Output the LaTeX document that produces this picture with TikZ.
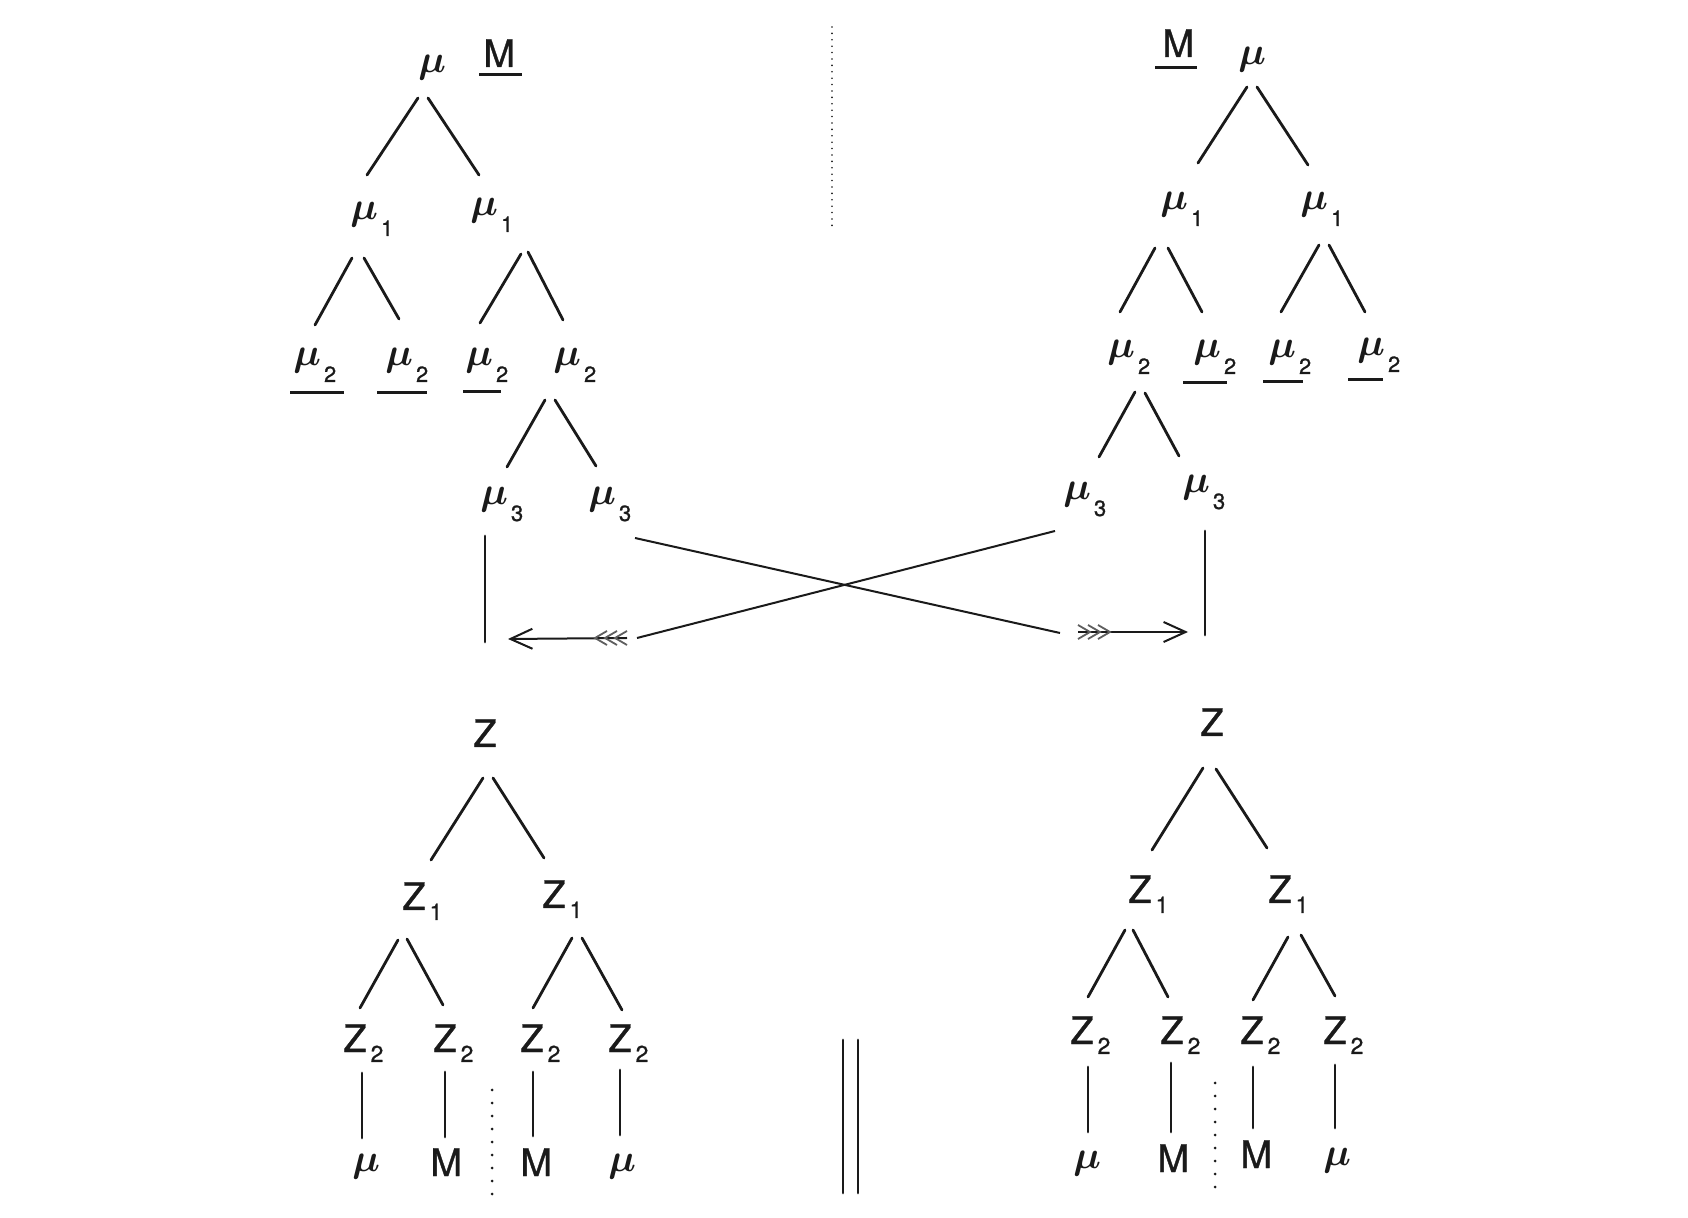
\RequirePackage{fix-cm}
\documentclass[tikz,border=0pt]{standalone}
\usepackage{fontspec}
\setsansfont{TeX Gyre Heros}
\newfontfamily\hvb{TeX Gyre Heros}[FakeBold=0.9]
\usetikzlibrary{arrows.meta}
\definecolor{ink}{HTML}{1A1A1A}
\newcommand\mub{{\fontsize{19.5}{21}\selectfont\boldmath$\mu$}}
\newcommand\Mb{{\hvb\fontsize{19}{20}\selectfont M}}
\newcommand\Zb{{\hvb\fontsize{19}{20}\selectfont Z}}
\newcommand\mul[1]{\mub\hspace{1.5pt}\raisebox{-8pt}{\hvb\fontsize{11}{11}\selectfont #1}}
\newcommand\zl[1]{\Zb\hspace{2pt}\raisebox{-5pt}{\hvb\fontsize{11.5}{11}\selectfont #1}}
\newcommand\E[6]{\draw[edge] ([shift={(#2,#3)}]#1.base west) -- ([shift={(#5,#6)}]#4.base west);}
\newcommand\U[4]{\draw[uline] ([shift={(#2,#3)}]#1.base west) -- ([shift={(#4,#3)}]#1.base west);}
\begin{document}
\begin{tikzpicture}[x=0.5pt,y=-0.5pt,
  edge/.style={line width=1.4pt, draw=ink, line cap=round},
  lab/.style={inner sep=0pt, anchor=base west, text=ink},
  uline/.style={line width=1.5pt, draw=ink},
  thinline/.style={line width=1pt, draw=ink},
  feather/.style={line width=0.9pt, draw=ink!70},
  dots/.style={line width=1.5pt, draw=ink, line cap=round, dash pattern=on 0pt off 6.5pt}]
\useasboundingbox[fill=white] (0,0) rectangle (1688,1218);

% ---------- top-left tree ----------
\node[lab] (A0) at (418,73) {\mub};
\node[lab] (AM) at (483,67) {\Mb};
\node[lab] (A1) at (350,220) {\mul{1}};
\node[lab] (A2) at (470,216) {\mul{1}};
\node[lab] (A3) at (293,366) {\mul{2}};
\node[lab] (A4) at (385,366) {\mul{2}};
\node[lab] (A5) at (465,366) {\mul{2}};
\node[lab] (A6) at (553,366) {\mul{2}};
\node[lab] (A7) at (480,505) {\mul{3}};
\node[lab] (A8) at (588,505) {\mul{3}};
\U{AM}{-4}{8}{39}
\U{A3}{-3}{27}{51}
\U{A4}{-8}{27}{42}
\U{A5}{-2}{26}{36}
\E{A0}{0}{25}{A1}{17}{-45}
\E{A0}{10}{25}{A2}{9}{-41}
\E{A1}{2}{38}{A3}{22}{-41}
\E{A1}{14}{38}{A4}{14}{-47}
\E{A2}{51}{38}{A5}{15}{-43}
\E{A2}{58}{36}{A6}{10}{-46}
\E{A6}{-8}{34}{A7}{27}{-38}
\E{A6}{2}{34}{A8}{8}{-39}

% ---------- top-right tree ----------
\node[lab] (B0) at (1238,65) {\mub};
\node[lab] (BM) at (1162,57) {\Mb};
\node[lab] (B1) at (1160,210) {\mul{1}};
\node[lab] (B2) at (1300,210) {\mul{1}};
\node[lab] (B3) at (1107,358) {\mul{2}};
\node[lab] (B4) at (1193,358) {\mul{2}};
\node[lab] (B5) at (1268,358) {\mul{2}};
\node[lab] (B6) at (1357,356) {\mul{2}};
\node[lab] (B7) at (1063,500) {\mul{3}};
\node[lab] (B8) at (1182,493) {\mul{3}};
\U{BM}{-7}{11}{35}
\U{B4}{-10}{25}{34}
\U{B5}{-5}{24}{35}
\U{B6}{-9}{24}{26}
\E{B0}{9}{22}{B1}{38}{-47}
\E{B0}{19}{22}{B2}{8}{-45}
\E{B1}{-5}{38}{B3}{13}{-46}
\E{B1}{8}{38}{B4}{9}{-46}
\E{B2}{19}{35}{B5}{13}{-46}
\E{B2}{29}{35}{B6}{8}{-44}
\E{B3}{28}{34}{B7}{36}{-43}
\E{B3}{38}{35}{B8}{-3}{-37}

% ---------- vertical stems and crossing arrows ----------
\coordinate (cA) at (485,642);
\coordinate (cB) at (1205,635);
\draw[edge] ([shift={(5,31)}]A7.base west) -- (cA);
\draw[edge] ([shift={(23,38)}]B8.base west) -- (cB);

\coordinate (x1) at (1060,633);
\coordinate (x1s) at (1078,632);
\coordinate (x1e) at (1188,632);
\draw[thinline] ([shift={(47,33)}]A8.base west) -- (x1);
\draw[thinline,-{Straight Barb[length=11pt,width=10pt]}] (x1s) -- (x1e);
\foreach \d in {12,22,32}
  \draw[feather] ([shift={(\d-12,-7)}]x1s) -- ([shift={(\d,0)}]x1s) -- ([shift={(\d-12,7)}]x1s);

\coordinate (x2) at (637,638);
\coordinate (x2s) at (627,638);
\coordinate (x2e) at (508,639);
\draw[thinline] ([shift={(-8,31)}]B7.base west) -- (x2);
\draw[thinline,-{Straight Barb[length=11pt,width=10pt]}] (x2s) -- (x2e);
\foreach \d in {12,22,32}
  \draw[feather] ([shift={(-\d+12,-7)}]x2s) -- ([shift={(-\d,0)}]x2s) -- ([shift={(-\d+12,7)}]x2s);

% ---------- bottom-left tree ----------
\node[lab] (C0) at (473,747) {\Zb};
\node[lab] (C1) at (402,910) {\zl{1}};
\node[lab] (C2) at (542,908) {\zl{1}};
\node[lab] (C3) at (343,1052) {\zl{2}};
\node[lab] (C4) at (433,1052) {\zl{2}};
\node[lab] (C5) at (520,1052) {\zl{2}};
\node[lab] (C6) at (608,1052) {\zl{2}};
\node[lab] (C7) at (352,1171) {\mub};
\node[lab] (C8) at (430,1176) {\Mb};
\node[lab] (C9) at (520,1176) {\Mb};
\node[lab] (C10) at (608,1171) {\mub};
\E{C0}{10}{31}{C1}{29}{-50}
\E{C0}{20}{31}{C2}{2}{-50}
\E{C1}{-4}{30}{C3}{17}{-44}
\E{C1}{5}{29}{C4}{10}{-47}
\E{C2}{30}{30}{C5}{13}{-44}
\E{C2}{40}{30}{C6}{14}{-42}
\E{C3}{19}{21}{C7}{10}{-33}
\E{C4}{12}{20}{C8}{15}{-39}
\E{C5}{13}{20}{C9}{13}{-40}
\E{C6}{12}{18}{C10}{12}{-36}

% ---------- bottom-right tree ----------
\node[lab] (D0) at (1200,736) {\Zb};
\node[lab] (D1) at (1128,903) {\zl{1}};
\node[lab] (D2) at (1268,903) {\zl{1}};
\node[lab] (D3) at (1070,1044) {\zl{2}};
\node[lab] (D4) at (1160,1044) {\zl{2}};
\node[lab] (D5) at (1240,1044) {\zl{2}};
\node[lab] (D6) at (1323,1044) {\zl{2}};
\node[lab] (D7) at (1073,1168) {\mub};
\node[lab] (D8) at (1157,1172) {\Mb};
\node[lab] (D9) at (1240,1168) {\Mb};
\node[lab] (D10) at (1323,1165) {\mub};
\E{D0}{3}{32}{D1}{24}{-53}
\E{D0}{16}{33}{D2}{-1}{-55}
\E{D1}{-3}{27}{D3}{18}{-47}
\E{D1}{5}{27}{D4}{8}{-47}
\E{D2}{20}{34}{D5}{13}{-44}
\E{D2}{33}{32}{D6}{12}{-48}
\E{D3}{18}{23}{D7}{15}{-36}
\E{D4}{11}{19}{D8}{14}{-40}
\E{D5}{13}{23}{D9}{13}{-40}
\E{D6}{12}{21}{D10}{12}{-37}

% ---------- separators ----------
\draw[line width=0.9pt, draw=ink, line cap=round, dash pattern=on 0pt off 3.2pt] (832,27) -- (832,231);
\draw[dots] (492,1090) -- (492,1202);
\draw[dots] (1215,1083) -- (1215,1190);
\draw[edge] (843,1040) -- (843,1193);
\draw[edge] (858,1040) -- (858,1193);
\end{tikzpicture}
\end{document}
